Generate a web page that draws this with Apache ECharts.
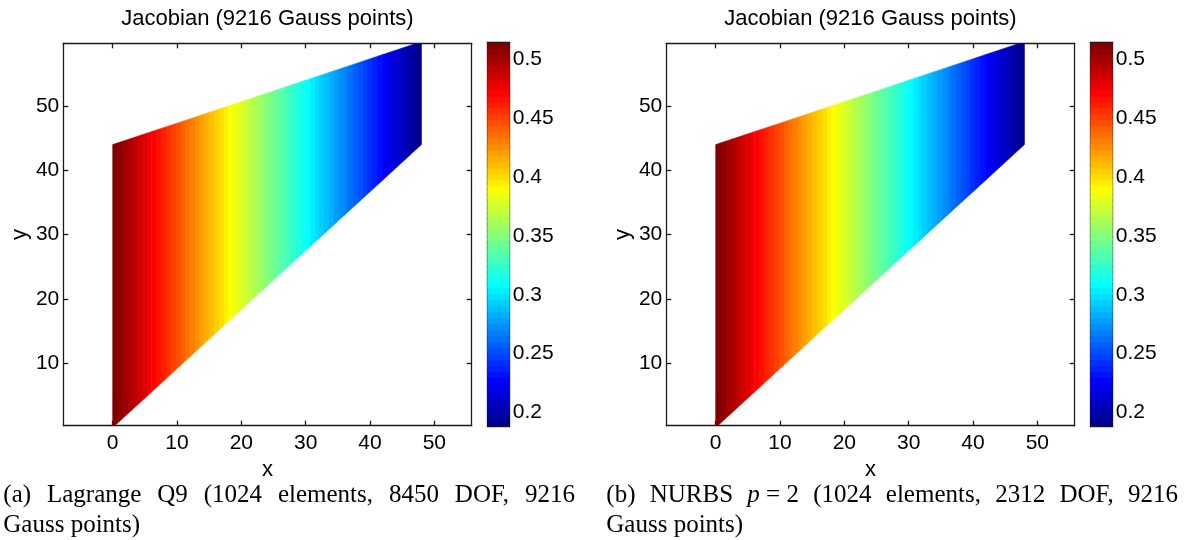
<!DOCTYPE html>
<html>
<head>
<meta charset="utf-8">
<script src="https://cdn.jsdelivr.net/npm/echarts@6/dist/echarts.min.js"></script>
<style>
html, body { margin: 0; padding: 0; background: #fff; }
#chart { width: 1186px; height: 540px; }
</style>
</head>
<body>
<div id="chart"></div>
<script>
// Stations along the membrane (x) with its lower and upper boundary
const xStations  = [0, 6, 12, 18, 24, 30, 36, 42, 48];
const yLowerEdge = [0, 5.5, 11, 16.5, 22, 27.5, 33, 38.5, 44];
const yUpperEdge = [44, 46, 48, 50, 52, 54, 56, 58, 60];

// Jacobian determinant at the stations, one list per discretisation
const jacobianQ9    = [0.515, 0.474, 0.433, 0.392, 0.351, 0.310, 0.269, 0.228, 0.188];
const jacobianNurbs = [0.515, 0.474, 0.433, 0.392, 0.351, 0.310, 0.269, 0.228, 0.188];

// Colour limits of the colour bar
const colorLimits = [0.1884, 0.5143];

// Tick labels
const xTicks = [0, 10, 20, 30, 40, 50];
const yTicks = [10, 20, 30, 40, 50];
const colorbarTicks = [0.2, 0.25, 0.3, 0.35, 0.4, 0.45, 0.5];

const plotTitle = 'Jacobian (9216 Gauss points)';
const captionA = [
  [[{ text: '(a)' }], [{ text: 'Lagrange' }], [{ text: 'Q9' }], [{ text: '(1024' }],
   [{ text: 'elements,' }], [{ text: '8450' }], [{ text: 'DOF,' }], [{ text: '9216' }]],
  'Gauss points)'
];
const captionB = [
  [[{ text: '(b)' }], [{ text: 'NURBS' }], [{ text: 'p', italic: true }, { text: ' = 2' }],
   [{ text: '(1024' }], [{ text: 'elements,' }], [{ text: '2312' }], [{ text: 'DOF,' }], [{ text: '9216' }]],
  'Gauss points)'
];

const SANS = '"Liberation Sans", Arial, Helvetica, sans-serif';
const SERIF = '"Liberation Serif", "Times New Roman", serif';
const CAPTION_SIZE = 25;
const INK = '#1a1a1a';
const N_LEVELS = 64;

// MATLAB-style jet colormap with 64 entries
function jetColor(k) {
  const n = 16;
  const u = [];
  for (let i = 1; i <= n; i++) u.push(i / n);
  for (let i = 0; i < n - 1; i++) u.push(1);
  for (let i = n; i >= 1; i--) u.push(i / n);
  const i = k + 1;
  const r = i >= 25 ? u[i - 25] : 0;
  const g = (i >= 9 && i <= 55) ? u[i - 9] : 0;
  const b = i <= 39 ? u[i + 7] : 0;
  return 'rgb(' + Math.round(r * 255) + ',' + Math.round(g * 255) + ',' + Math.round(b * 255) + ')';
}
function levelOf(v) {
  const t = (v - colorLimits[0]) / (colorLimits[1] - colorLimits[0]);
  return Math.max(0, Math.min(N_LEVELS - 1, Math.floor(t * N_LEVELS)));
}
function levelBoundary(m) {
  return colorLimits[0] + m * (colorLimits[1] - colorLimits[0]) / N_LEVELS;
}

// Horizontal gradient for one strip, quantised to the colormap levels
function stripGradient(j0, j1) {
  const stops = [];
  const k0 = levelOf(j0), k1 = levelOf(j1);
  stops.push({ offset: 0, color: jetColor(k0) });
  const step = k1 > k0 ? 1 : -1;
  for (let k = k0; k !== k1; k += step) {
    const next = k + step;
    const b = levelBoundary(step > 0 ? next : k);
    const t = (b - j0) / (j1 - j0);
    stops.push({ offset: t, color: jetColor(k) });
    stops.push({ offset: t, color: jetColor(next) });
  }
  stops.push({ offset: 1, color: jetColor(k1) });
  return new echarts.graphic.LinearGradient(0, 0, 1, 0, stops);
}

function fieldData(jac) {
  const d = [];
  for (let i = 0; i < xStations.length - 1; i++) {
    d.push([xStations[i], xStations[i + 1], yLowerEdge[i], yLowerEdge[i + 1],
            yUpperEdge[i], yUpperEdge[i + 1], jac[i], jac[i + 1]]);
  }
  return d;
}
function renderStrip(params, api) {
  const x0 = api.value(0), x1 = api.value(1);
  const p = [
    api.coord([x0, api.value(2)]),
    api.coord([x1, api.value(3)]),
    api.coord([x1, api.value(5)]),
    api.coord([x0, api.value(4)])
  ];
  const grad = stripGradient(api.value(6), api.value(7));
  return {
    type: 'polygon',
    shape: { points: p },
    style: { fill: grad, stroke: grad, lineWidth: 0.6 }
  };
}

// Colour bar: one band per colormap level; every band but the last reaches
// one pixel into the band above so that no seam shows between them
const colorbarData = [];
for (let k = 0; k < N_LEVELS; k++) colorbarData.push([levelBoundary(k), levelBoundary(k + 1), k]);
function renderLevel(params, api) {
  const k = api.value(2);
  const a = api.coord([0, api.value(0)]);
  const b = api.coord([1, api.value(1)]);
  const top = b[1] - (k < N_LEVELS - 1 ? 1 : 0);
  const c = jetColor(k);
  return {
    type: 'rect',
    shape: { x: a[0], y: top, width: b[0] - a[0], height: a[1] - top },
    style: { fill: c }
  };
}

const lineStyle = { color: INK, width: 1.3 };
const grids = [], xAxes = [], yAxes = [], series = [], graphics = [];

function addPanel(dx, jac, caption) {
  const plotLeft = 63.3 + dx, plotTop = 43.3, plotW = 408.4, plotH = 382.4;
  const gMain = grids.length;
  grids.push({ left: plotLeft, top: plotTop, width: plotW, height: plotH, outerBoundsMode: 'none' });
  const gBar = grids.length;
  grids.push({ left: 487.3 + dx, top: 42.7, width: 22.4, height: 383.3, outerBoundsMode: 'none' });

  const xi = xAxes.length;
  const common = { type: 'value', splitLine: { show: false }, axisLine: { show: true, onZero: false, lineStyle } };
  xAxes.push(Object.assign({}, common, {
    gridIndex: gMain, min: -7.68, max: 55.81, position: 'bottom',
    axisTick: { show: true, inside: true, length: 5, customValues: xTicks, lineStyle },
    axisLabel: { show: true, customValues: xTicks, margin: 7, color: '#000', fontSize: 21, fontFamily: SANS },
    name: 'x', nameLocation: 'middle', nameGap: 21,
    nameTextStyle: { color: '#000', fontSize: 22, fontFamily: SANS }
  }));
  xAxes.push(Object.assign({}, common, {
    gridIndex: gMain, min: -7.68, max: 55.81, position: 'top',
    axisTick: { show: true, inside: true, length: 5, customValues: xTicks, lineStyle },
    axisLabel: { show: false }
  }));
  xAxes.push(Object.assign({}, common, {
    gridIndex: gBar, min: 0, max: 1, position: 'bottom',
    axisTick: { show: false }, axisLabel: { show: false }
  }));
  xAxes.push(Object.assign({}, common, {
    gridIndex: gBar, min: 0, max: 1, position: 'top',
    axisTick: { show: false }, axisLabel: { show: false }
  }));

  const yi = yAxes.length;
  yAxes.push(Object.assign({}, common, {
    gridIndex: gMain, min: 0.3, max: 59.75, position: 'left',
    axisTick: { show: true, inside: true, length: 5, customValues: yTicks, lineStyle },
    axisLabel: { show: true, customValues: yTicks, margin: 4, color: '#000', fontSize: 21, fontFamily: SANS },
    name: 'y', nameLocation: 'middle', nameGap: 32, nameRotate: 90,
    nameTextStyle: { color: '#000', fontSize: 22, fontFamily: SANS }
  }));
  yAxes.push(Object.assign({}, common, {
    gridIndex: gMain, min: 0.3, max: 59.75, position: 'right',
    axisTick: { show: true, inside: true, length: 5, customValues: yTicks, lineStyle },
    axisLabel: { show: false }
  }));
  yAxes.push(Object.assign({}, common, {
    gridIndex: gBar, min: colorLimits[0], max: colorLimits[1], position: 'left',
    axisTick: { show: true, inside: true, length: 3, customValues: colorbarTicks, lineStyle },
    axisLabel: { show: false }
  }));
  yAxes.push(Object.assign({}, common, {
    gridIndex: gBar, min: colorLimits[0], max: colorLimits[1], position: 'right',
    axisTick: { show: true, inside: true, length: 3, customValues: colorbarTicks, lineStyle },
    axisLabel: {
      show: true, customValues: colorbarTicks, margin: 3, color: '#000', fontSize: 21, fontFamily: SANS,
      formatter: v => String(+(+v).toFixed(2))
    }
  }));

  series.push({
    type: 'custom', xAxisIndex: xi, yAxisIndex: yi, clip: true, silent: true,
    renderItem: renderStrip, data: fieldData(jac)
  });
  series.push({
    type: 'custom', xAxisIndex: xi + 2, yAxisIndex: yi + 2, clip: true, silent: true, z: 1,
    renderItem: renderLevel, data: colorbarData
  });

  graphics.push({
    type: 'text', x: plotLeft + plotW / 2, y: 19,
    style: { text: plotTitle, fill: '#000', fontSize: 22, fontFamily: SANS, align: 'center', verticalAlign: 'middle' }
  });

  addCaption(caption, 3.3 + dx, 575 + dx);
}

// Justified first caption line, ragged second line
const measureCtx = document.createElement('canvas').getContext('2d');
function partFont(p) { return (p.italic ? 'italic ' : '') + CAPTION_SIZE + 'px ' + SERIF; }
function textWidth(p) { measureCtx.font = partFont(p); return measureCtx.measureText(p.text).width; }
function addCaption(caption, x0, x1) {
  const tokens = caption[0];
  const widths = tokens.map(parts => parts.reduce((s, p) => s + textWidth(p), 0));
  const total = widths.reduce((a, b) => a + b, 0);
  const gap = (x1 - x0 - total) / (tokens.length - 1);
  let x = x0;
  tokens.forEach((parts, i) => {
    let px = x;
    parts.forEach(p => {
      graphics.push({
        type: 'text', x: px, y: 495,
        style: { text: p.text, fill: '#000', fontSize: CAPTION_SIZE, fontFamily: SERIF,
                 fontStyle: p.italic ? 'italic' : 'normal', align: 'left', verticalAlign: 'middle' }
      });
      px += textWidth(p);
    });
    x += widths[i] + gap;
  });
  graphics.push({
    type: 'text', x: x0, y: 525,
    style: { text: caption[1], fill: '#000', fontSize: CAPTION_SIZE, fontFamily: SERIF, align: 'left', verticalAlign: 'middle' }
  });
}

addPanel(0, jacobianQ9, captionA);
addPanel(603, jacobianNurbs, captionB);

const chart = echarts.init(document.getElementById('chart'), null, { renderer: 'canvas' });
chart.setOption({
  animation: false,
  backgroundColor: '#fff',
  textStyle: { fontFamily: SANS },
  grid: grids,
  xAxis: xAxes,
  yAxis: yAxes,
  series: series,
  graphic: graphics
});
</script>
</body>
</html>
